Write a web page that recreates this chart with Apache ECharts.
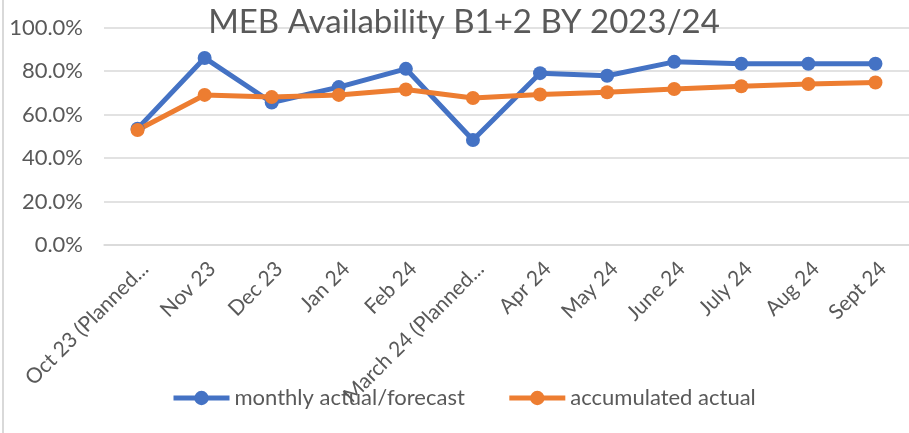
<!DOCTYPE html>
<html>
<head>
<meta charset="utf-8">
<script src="https://cdn.jsdelivr.net/npm/echarts@6/dist/echarts.min.js"></script>
<style>
html, body { margin: 0; padding: 0; background: #fff; }
#chart { height: 433px; box-sizing: border-box; border-left: 2px solid #d9d9d9; margin-left: 2px; width: 907px; }
</style>
</head>
<body>
<div id="chart"></div>
<script>
var months = ["Oct 23 (Planned...", "Nov 23", "Dec 23", "Jan 24", "Feb 24", "March 24 (Planned...",
  "Apr 24", "May 24", "June 24", "July 24", "Aug 24", "Sept 24"];
var monthly = [53.5, 86.0, 65.5, 72.6, 81.0, 48.3, 79.0, 77.8, 84.2, 83.3, 83.3, 83.3];
var accumulated = [52.9, 69.0, 68.0, 69.0, 71.5, 67.6, 69.2, 70.2, 71.7, 73.0, 74.0, 74.7];
var yTicks = [0, 20, 40, 60, 80, 100];

var font = "Lato, 'Open Sans', sans-serif";
var chart = echarts.init(document.getElementById("chart"));
var option = {
  animation: false,
  title: {
    text: "MEB Availability B1+2 BY 2023/24",
    left: 455,
    top: 1,
    textAlign: "center",
    textStyle: { color: "#595959", fontSize: 33, fontWeight: "normal", fontFamily: font }
  },
  legend: {
    top: 382,
    left: 162,
    itemWidth: 56,
    itemHeight: 18,
    itemGap: 42,
    lineStyle: { width: 5 },
    textStyle: { color: "#595959", fontSize: 22, fontFamily: font },
    data: ["monthly actual/forecast", "accumulated actual"]
  },
  grid: { left: 100, right: -13, top: 27.5, bottom: 188 },
  xAxis: {
    type: "category",
    data: months,
    boundaryGap: true,
    axisLine: { show: true, lineStyle: { color: "#d9d9d9", width: 1.5 } },
    axisTick: { show: false },
    axisLabel: {
      rotate: 45, interval: 0, color: "#595959", fontSize: 21, fontFamily: font,
      margin: 13, verticalAlign: "top"
    }
  },
  yAxis: {
    type: "value",
    min: yTicks[0],
    max: yTicks[yTicks.length - 1],
    interval: 20,
    axisLine: { show: false },
    axisTick: { show: false },
    splitLine: { lineStyle: { color: "#d9d9d9", width: 1.5 } },
    axisLabel: {
      color: "#595959", fontSize: 22, fontFamily: font, margin: 21,
      formatter: function (v) { return v.toFixed(1) + "%"; }
    }
  },
  series: [
    {
      name: "monthly actual/forecast",
      type: "line",
      data: monthly,
      symbol: "circle",
      symbolSize: 14,
      lineStyle: { color: "#4472c4", width: 5 },
      itemStyle: { color: "#4472c4" }
    },
    {
      name: "accumulated actual",
      type: "line",
      data: accumulated,
      symbol: "circle",
      symbolSize: 14,
      lineStyle: { color: "#ed7d31", width: 5 },
      itemStyle: { color: "#ed7d31" }
    }
  ]
};
chart.setOption(option);
</script>
</body>
</html>
